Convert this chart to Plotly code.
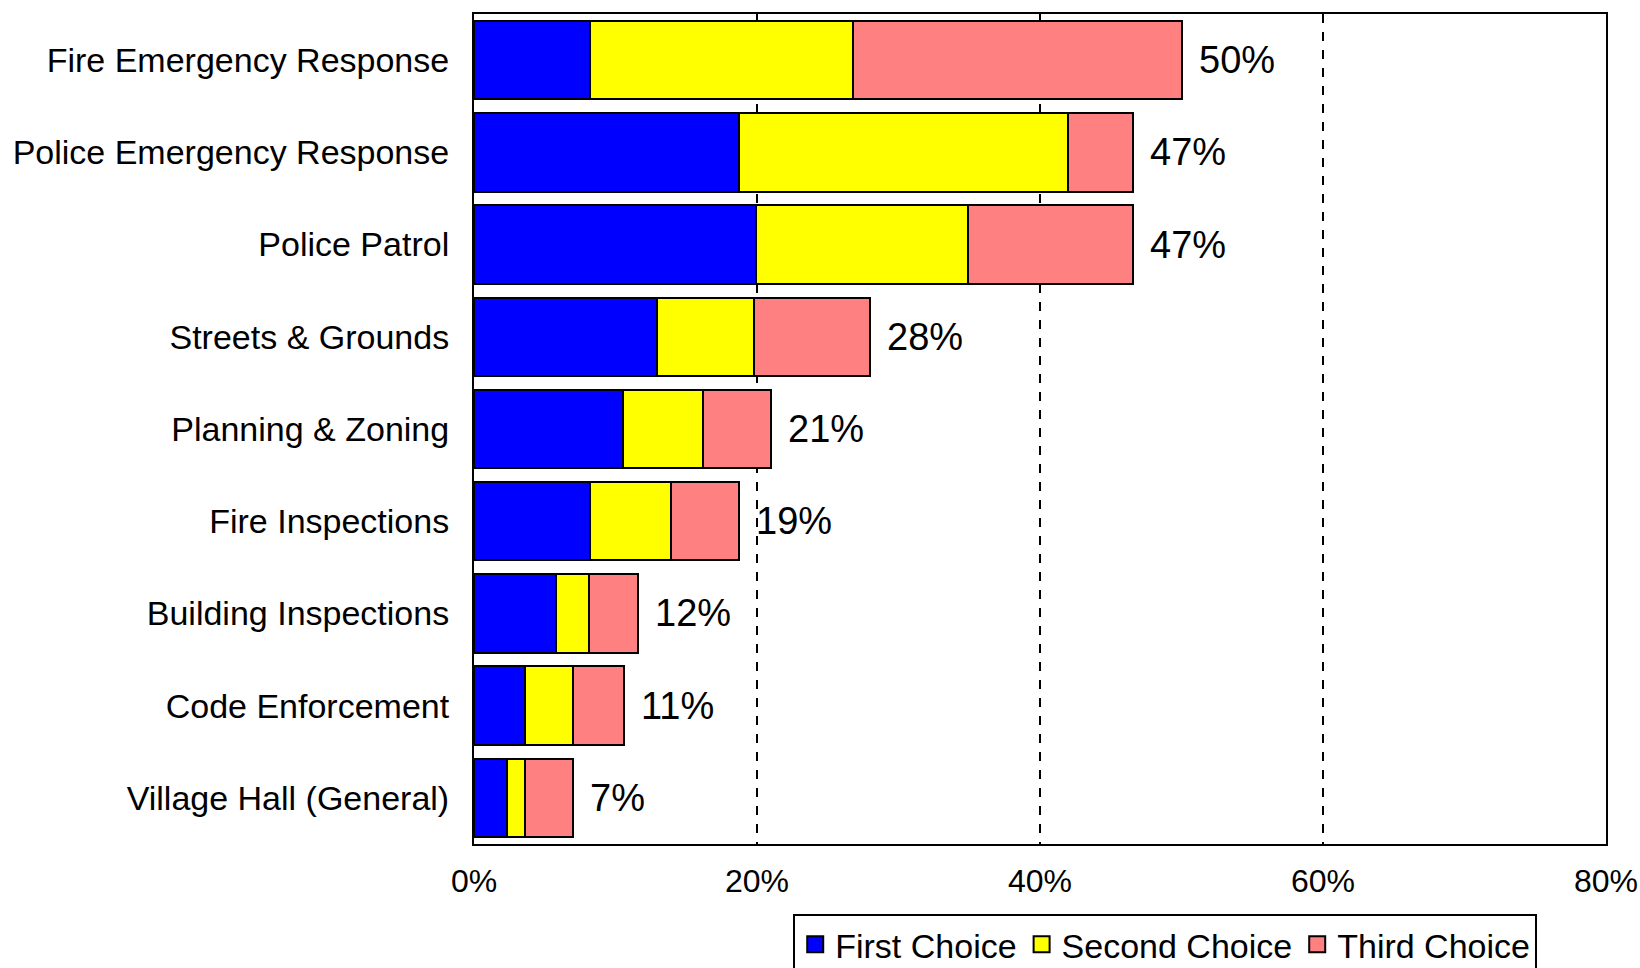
import plotly.graph_objects as go

categories = ["Fire Emergency Response", "Police Emergency Response", "Police Patrol",
              "Streets & Grounds", "Planning & Zoning", "Fire Inspections",
              "Building Inspections", "Code Enforcement", "Village Hall (General)"]
first_choice = [8.2, 18.7, 19.9, 12.9, 10.5, 8.2, 5.8, 3.6, 2.3]
second_choice = [18.6, 23.3, 15.0, 6.9, 5.7, 5.7, 2.3, 3.4, 1.3]
third_choice = [23.2, 4.6, 11.7, 8.2, 4.8, 4.8, 3.5, 3.6, 3.4]
total_labels = ["50%", "47%", "47%", "28%", "21%", "19%", "12%", "11%", "7%"]
x_ticks = [0, 20, 40, 60, 80]
x_tick_labels = ["0%", "20%", "40%", "60%", "80%"]
series_names = ["First Choice", "Second Choice", "Third Choice"]
series_colors = ["#0000FF", "#FFFF00", "#FF8080"]

FONT = "Liberation Sans, Arial, sans-serif"

fig = go.Figure()
for name, vals, color in zip(series_names, [first_choice, second_choice, third_choice], series_colors):
    fig.add_trace(go.Bar(
        y=categories, x=vals, name=name, orientation="h", showlegend=False,
        marker=dict(color=color, line=dict(color="black", width=2)),
    ))

# legend entries with larger square symbols
for name, color in zip(series_names, series_colors):
    fig.add_trace(go.Scatter(
        x=[None], y=[None], mode="markers", name=name,
        marker=dict(symbol="square", size=22, color=color, line=dict(color="black", width=2)),
    ))

totals = [a + b + c for a, b, c in zip(first_choice, second_choice, third_choice)]
for cat, tot, lab in zip(categories, totals, total_labels):
    fig.add_annotation(x=tot, y=cat, text=lab, showarrow=False,
                       xanchor="left", xshift=15,
                       font=dict(family=FONT, size=38, color="black"))

fig.update_layout(
    barmode="stack",
    bargap=0.15,
    width=1640, height=968,
    margin=dict(l=474, r=34, t=14, b=124, autoexpand=False),
    paper_bgcolor="white", plot_bgcolor="white",
    font=dict(family=FONT, size=32, color="black"),
    showlegend=True,
    legend=dict(orientation="h", x=0.282, xanchor="left", y=-0.084, yanchor="top",
                bordercolor="black", borderwidth=2, traceorder="normal",
                font=dict(family=FONT, size=34, color="black"),
                itemwidth=30, tracegroupgap=0),
)
fig.update_xaxes(range=[0, 80], tickvals=x_ticks, ticktext=x_tick_labels,
                 showgrid=True, gridcolor="black", gridwidth=2, griddash="dash",
                 showline=True, linecolor="black", linewidth=2, mirror=True,
                 zeroline=False, ticks="", ticklabelstandoff=8,
                 tickfont=dict(family=FONT, size=32, color="black"))
fig.update_yaxes(categoryorder="array", categoryarray=categories,
                 range=[8.5, -0.5],
                 showline=True, linecolor="black", linewidth=2, mirror=True,
                 showgrid=False, ticks="", ticklabelstandoff=16,
                 tickfont=dict(family=FONT, size=34, color="black"))

fig.write_html("out.html", config={"displayModeBar": False},
               post_script="document.body.style.margin='0';document.body.style.overflow='hidden';")
